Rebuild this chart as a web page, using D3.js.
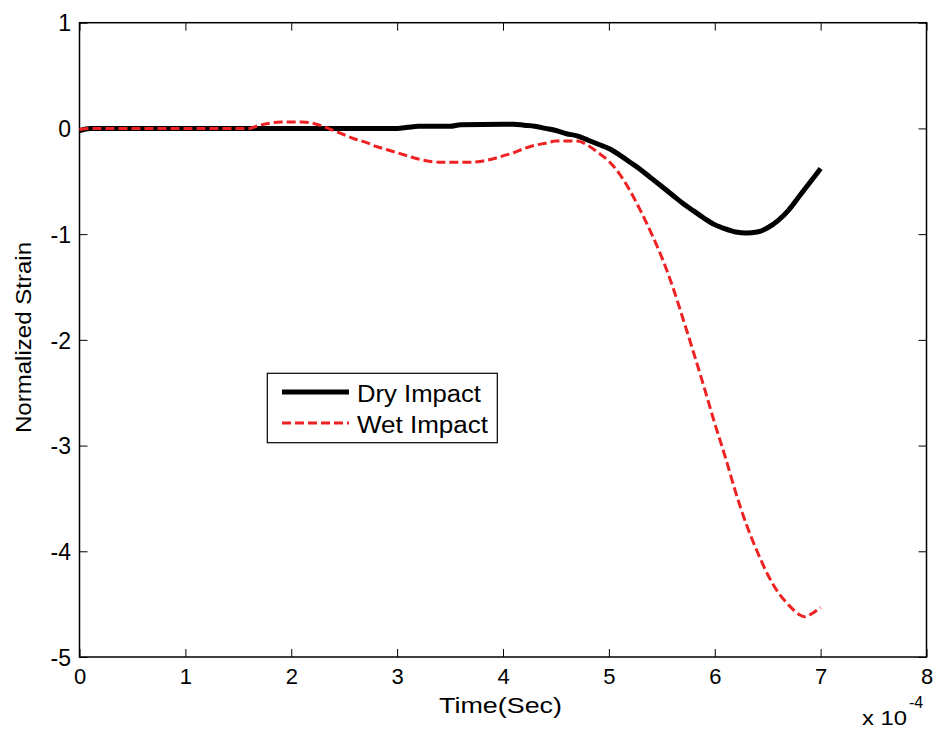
<!DOCTYPE html>
<html>
<head>
<meta charset="utf-8">
<script src="https://cdn.jsdelivr.net/npm/d3@7/dist/d3.min.js"></script>
<style>
  html, body { margin: 0; padding: 0; background: #fff; }
  svg { display: block; font-family: Arial, "Liberation Sans", sans-serif; }
</style>
</head>
<body>
<svg id="chart" width="936" height="731"></svg>
<script>
// Time in units of 1e-4 s
const dryTime = [0, 0.1, 0.5, 1, 1.5, 2, 2.5, 3.0, 3.1, 3.2, 3.5, 3.6, 4.0, 4.1, 4.2, 4.3, 4.4, 4.5, 4.6, 4.7, 4.8, 4.9, 5.0, 5.1, 5.2, 5.3, 5.4, 5.5, 5.6, 5.7, 5.8, 5.9, 6.0, 6.1, 6.2, 6.3, 6.4, 6.5, 6.6, 6.7, 6.8, 6.9, 7.0];
const dryStrain = [-0.02, 0.0, 0.0, 0.0, 0.0, 0.0, 0.0, 0.0, 0.01, 0.02, 0.02, 0.035, 0.04, 0.04, 0.03, 0.02, 0.0, -0.02, -0.05, -0.07, -0.11, -0.15, -0.19, -0.25, -0.32, -0.39, -0.47, -0.55, -0.63, -0.71, -0.78, -0.85, -0.91, -0.95, -0.98, -0.99, -0.98, -0.94, -0.87, -0.77, -0.64, -0.51, -0.38];

const wetTime = [0, 0.1, 0.5, 1.0, 1.5, 1.6, 1.7, 1.8, 1.9, 2.0, 2.1, 2.2, 2.3, 2.4, 2.5, 2.6, 2.7, 2.8, 2.9, 3.0, 3.1, 3.2, 3.3, 3.4, 3.5, 3.6, 3.7, 3.8, 3.9, 4.0, 4.1, 4.2, 4.3, 4.4, 4.5, 4.6, 4.7, 4.8, 4.9, 5.0, 5.1, 5.2, 5.3, 5.4, 5.5, 5.6, 5.7, 5.8, 5.9, 6.0, 6.1, 6.2, 6.3, 6.4, 6.5, 6.6, 6.7, 6.8, 6.85, 6.9, 7.0];
const wetStrain = [-0.01, 0.0, 0.0, 0.0, 0.0, 0.0, 0.03, 0.05, 0.06, 0.06, 0.06, 0.05, 0.02, -0.02, -0.06, -0.10, -0.13, -0.17, -0.20, -0.23, -0.26, -0.29, -0.31, -0.32, -0.32, -0.32, -0.32, -0.31, -0.29, -0.26, -0.23, -0.19, -0.16, -0.14, -0.12, -0.12, -0.12, -0.16, -0.23, -0.31, -0.43, -0.59, -0.78, -0.99, -1.22, -1.49, -1.80, -2.12, -2.45, -2.79, -3.11, -3.45, -3.75, -4.00, -4.22, -4.39, -4.51, -4.60, -4.62, -4.60, -4.53];

const xTicks = [0, 1, 2, 3, 4, 5, 6, 7, 8];
const yTicks = [1, 0, -1, -2, -3, -4, -5];
const seriesNames = ["Dry Impact", "Wet Impact"];

const svg = d3.select("#chart");
const L = 79.5, R = 926.5, T = 22.7, B = 657;

const x = d3.scaleLinear().domain([0, 8]).range([L, R]);
const y = d3.scaleLinear().domain([-5, 1]).range([B, T]);

const tickLen = 8;
const fmt = d => String(d);

// Axes
const gx = svg.append("g").attr("transform", `translate(0,${B})`)
  .call(d3.axisBottom(x).tickValues(xTicks).tickSize(-tickLen).tickFormat(fmt));
const gxTop = svg.append("g").attr("transform", `translate(0,${T})`)
  .call(d3.axisTop(x).tickValues(xTicks).tickSize(-tickLen).tickFormat(""));
const gy = svg.append("g").attr("transform", `translate(${L},0)`)
  .call(d3.axisLeft(y).tickValues(yTicks).tickSize(-tickLen).tickFormat(fmt));
const gyR = svg.append("g").attr("transform", `translate(${R},0)`)
  .call(d3.axisRight(y).tickValues(yTicks).tickSize(-tickLen).tickFormat(""));

[gx, gxTop, gy, gyR].forEach(g => {
  g.select(".domain").remove();
  g.selectAll(".tick line").attr("stroke", "#000").attr("stroke-width", 1);
  g.selectAll(".tick text").attr("fill", "#000")
    .attr("font-family", "Arial, 'Liberation Sans', sans-serif");
});
gx.selectAll(".tick text").attr("font-size", 22).attr("dy", null).attr("y", 27);
gy.selectAll(".tick text").attr("font-size", 23).attr("x", -8.5).attr("dy", "0.36em");

// Frame
svg.append("rect").attr("x", L).attr("y", T).attr("width", R - L).attr("height", B - T)
  .attr("fill", "none").attr("stroke", "#000").attr("stroke-width", 1.5);

// Lines
const line = d3.line().x(d => x(d[0])).y(d => y(d[1])).curve(d3.curveMonotoneX);
const dryData = dryTime.map((t, i) => [t, dryStrain[i]]);
const wetData = wetTime.map((t, i) => [t, wetStrain[i]]);

svg.append("path").datum(dryData).attr("d", line)
  .attr("fill", "none").attr("stroke", "#000").attr("stroke-width", 5).attr("stroke-linejoin", "round");
svg.append("path").datum(wetData).attr("d", line)
  .attr("fill", "none").attr("stroke", "#ee2222").attr("stroke-width", 3).attr("stroke-dasharray", "9,4");

// Axis labels
svg.append("text").attr("x", 439).attr("y", 713)
  .attr("font-size", 22).attr("textLength", 123).attr("lengthAdjust", "spacingAndGlyphs").text("Time(Sec)");
svg.append("text").attr("transform", "translate(31,433) rotate(-90)")
  .attr("font-size", 22).attr("textLength", 191).attr("lengthAdjust", "spacingAndGlyphs").text("Normalized Strain");

// Exponent
svg.append("text").attr("x", 862).attr("y", 725).attr("font-size", 21)
  .attr("textLength", 45).attr("lengthAdjust", "spacingAndGlyphs").text("x 10");
svg.append("text").attr("x", 909).attr("y", 708).attr("font-size", 16).text("-4");

// Legend
const lg = svg.append("g");
lg.append("rect").attr("x", 267.3).attr("y", 373.3).attr("width", 230).attr("height", 69.4)
  .attr("fill", "#fff").attr("stroke", "#000").attr("stroke-width", 1.2);
lg.append("line").attr("x1", 282).attr("x2", 349).attr("y1", 392).attr("y2", 392)
  .attr("stroke", "#000").attr("stroke-width", 5);
lg.append("line").attr("x1", 282).attr("x2", 349).attr("y1", 423).attr("y2", 423)
  .attr("stroke", "#ee2222").attr("stroke-width", 3).attr("stroke-dasharray", "9,4");
lg.append("text").attr("x", 357).attr("y", 401.5).attr("font-size", 23)
  .attr("textLength", 124).attr("lengthAdjust", "spacingAndGlyphs").text(seriesNames[0]);
lg.append("text").attr("x", 357).attr("y", 433).attr("font-size", 23)
  .attr("textLength", 131).attr("lengthAdjust", "spacingAndGlyphs").text(seriesNames[1]);
</script>
</body>
</html>
